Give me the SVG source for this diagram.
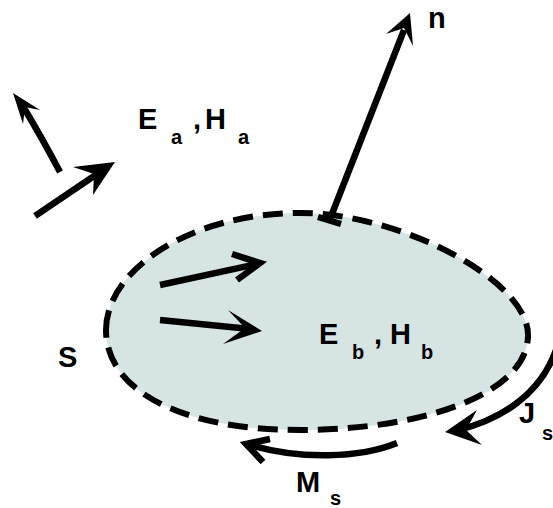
<svg xmlns="http://www.w3.org/2000/svg" width="553" height="508" viewBox="0 0 553 508">
<style>
.ln{fill:none;stroke:#000;stroke-width:6.5;stroke-linecap:butt}
.hd{fill:#000;stroke:none}
.ch{fill:none;stroke:#000;stroke-width:6.5;stroke-linejoin:miter}
.t{font-family:"Liberation Sans",Arial,sans-serif;font-weight:bold;fill:#000}
.big{font-size:29px}
.sub{font-size:20px}
</style>
<g id="body">
<path d="M106,330 C106,270 190,213 300,213 C400,213 528,280 528,335 C528,395 420,430 300,430 C180,430 106,390 106,330 Z" fill="#d7e4e4" stroke="#000" stroke-width="6" stroke-dasharray="20 10"/>
</g>
<g id="connectors">
<g id="normal">
<line class="ln" x1="330" y1="219" x2="404" y2="30"/>
<line class="ln" x1="318" y1="217" x2="341" y2="224"/>
<path class="hd" d="M410,13 L386,34 L404,28 L413,46 Z"/>
</g>
<g id="ea1">
<path class="ln" d="M60,172 Q42,138 24,108"/>
<path class="hd" d="M13,93 L40,110 L25,107 L23,124 Z"/>
</g>
<g id="ea2">
<line class="ln" x1="35" y1="216" x2="100" y2="172"/>
<path class="hd" d="M115,162 L73,167 L94,174 L93,195 Z"/>
</g>
<g id="eb1">
<line class="ln" x1="160" y1="285" x2="257" y2="264"/>
<polyline class="ch" points="232,254 260,263 237,280"/>
</g>
<g id="eb2">
<line class="ln" x1="160" y1="320" x2="250" y2="329"/>
<path class="hd" d="M262,331 L228,310 L245,328 L223,344 Z"/>
</g>
<g id="js">
<path class="ln" d="M556,350 C540,395 500,420 458,430"/>
<path class="hd" d="M445,432 L477,410 L466,430 L482,445 Z"/>
</g>
<g id="ms">
<path class="ln" d="M397,443 C360,458 300,460 250,445"/>
<polyline class="ch" points="270,439 246,444 263,462"/>
</g>
</g>
<g id="labels">
<text class="t big" x="428" y="28">n</text>
<text class="t big" x="138" y="129">E</text>
<text class="t sub" x="171" y="144">a</text>
<text class="t big" x="193" y="129">,</text>
<text class="t big" x="205" y="129">H</text>
<text class="t sub" x="238" y="144">a</text>
<text class="t big" x="319" y="344">E</text>
<text class="t sub" x="352" y="359">b</text>
<text class="t big" x="374" y="344">,</text>
<text class="t big" x="390" y="344">H</text>
<text class="t sub" x="421" y="359">b</text>
<text class="t big" x="58" y="367">S</text>
<text class="t big" x="296" y="492">M</text>
<text class="t sub" x="330" y="505">s</text>
<text class="t big" x="519" y="423">J</text>
<text class="t sub" x="542" y="440">s</text>
</g>
</svg>
